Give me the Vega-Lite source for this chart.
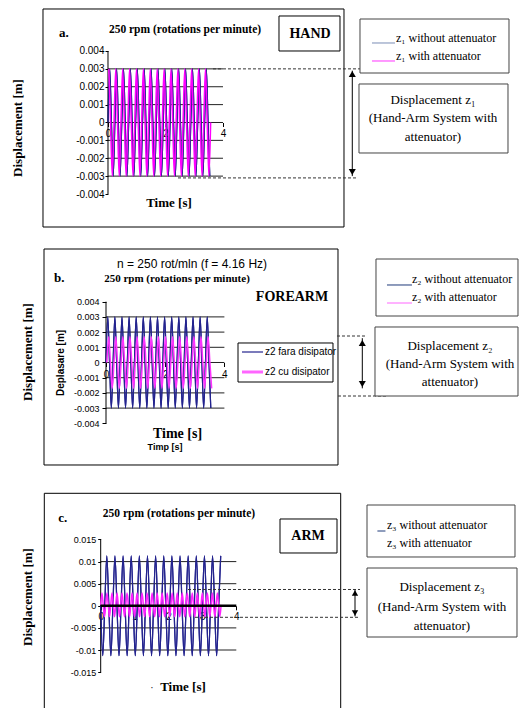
{
"$schema": "https://vega.github.io/schema/vega-lite/v6.json",
"padding": 0,
"spacing": 0,
"background": "white",
"config": {"view": {"stroke": null}, "axis": {"labelFont": "Liberation Sans", "labelColor": "#000", "tickColor": "#000", "domain": false, "grid": false, "labelFlush": false, "labelOverlap": false, "zindex": 1}},
"datasets": {
"ga": [{"g":-0.003},{"g":-0.002},{"g":-0.001},{"g":0},{"g":0.001},{"g":0.002},{"g":0.003}],
"gb": [{"g":-0.003},{"g":-0.002},{"g":-0.001},{"g":0},{"g":0.001},{"g":0.002},{"g":0.003}],
"gc": [{"g":-0.01},{"g":-0.005},{"g":0.005},{"g":0.01}],
"aw": [{"t":0,"v":0},{"t":0.06,"v":0.003},{"t":0.12,"v":0},{"t":0.18,"v":-0.003},{"t":0.24,"v":0},{"t":0.3,"v":0.003},{"t":0.36,"v":0},{"t":0.42,"v":-0.003},{"t":0.48,"v":0},{"t":0.54,"v":0.003},{"t":0.6,"v":0},{"t":0.66,"v":-0.003},{"t":0.72,"v":0},{"t":0.78,"v":0.003},{"t":0.84,"v":0},{"t":0.9,"v":-0.003},{"t":0.96,"v":0},{"t":1.02,"v":0.003},{"t":1.08,"v":0},{"t":1.14,"v":-0.003},{"t":1.2,"v":0},{"t":1.26,"v":0.003},{"t":1.32,"v":0},{"t":1.38,"v":-0.003},{"t":1.44,"v":0},{"t":1.5,"v":0.003},{"t":1.56,"v":0},{"t":1.62,"v":-0.003},{"t":1.68,"v":0},{"t":1.74,"v":0.003},{"t":1.8,"v":0},{"t":1.86,"v":-0.003},{"t":1.92,"v":0},{"t":1.98,"v":0.003},{"t":2.04,"v":0},{"t":2.1,"v":-0.003},{"t":2.16,"v":0},{"t":2.22,"v":0.003},{"t":2.28,"v":0},{"t":2.34,"v":-0.003},{"t":2.4,"v":0},{"t":2.46,"v":0.003},{"t":2.52,"v":0},{"t":2.58,"v":-0.003},{"t":2.64,"v":0},{"t":2.7,"v":0.003},{"t":2.76,"v":0},{"t":2.82,"v":-0.003},{"t":2.88,"v":0},{"t":2.94,"v":0.003},{"t":3,"v":0},{"t":3.06,"v":-0.003},{"t":3.12,"v":0},{"t":3.18,"v":0.003},{"t":3.24,"v":0},{"t":3.3,"v":-0.003},{"t":3.36,"v":0},{"t":3.42,"v":0.003},{"t":3.48,"v":0},{"t":3.54,"v":-0.003}],
"ap": [{"t":0.03,"v":0.003},{"t":0.09,"v":0},{"t":0.15,"v":-0.003},{"t":0.21,"v":0},{"t":0.27,"v":0.003},{"t":0.33,"v":0},{"t":0.39,"v":-0.003},{"t":0.45,"v":0},{"t":0.51,"v":0.003},{"t":0.57,"v":0},{"t":0.63,"v":-0.003},{"t":0.69,"v":0},{"t":0.75,"v":0.003},{"t":0.81,"v":0},{"t":0.87,"v":-0.003},{"t":0.93,"v":0},{"t":0.99,"v":0.003},{"t":1.05,"v":0},{"t":1.11,"v":-0.003},{"t":1.17,"v":0},{"t":1.23,"v":0.003},{"t":1.29,"v":0},{"t":1.35,"v":-0.003},{"t":1.41,"v":0},{"t":1.47,"v":0.003},{"t":1.53,"v":0},{"t":1.59,"v":-0.003},{"t":1.65,"v":0},{"t":1.71,"v":0.003},{"t":1.77,"v":0},{"t":1.83,"v":-0.003},{"t":1.89,"v":0},{"t":1.95,"v":0.003},{"t":2.01,"v":0},{"t":2.07,"v":-0.003},{"t":2.13,"v":0},{"t":2.19,"v":0.003},{"t":2.25,"v":0},{"t":2.31,"v":-0.003},{"t":2.37,"v":0},{"t":2.43,"v":0.003},{"t":2.49,"v":0},{"t":2.55,"v":-0.003},{"t":2.61,"v":0},{"t":2.67,"v":0.003},{"t":2.73,"v":0},{"t":2.79,"v":-0.003},{"t":2.85,"v":0},{"t":2.91,"v":0.003},{"t":2.97,"v":0},{"t":3.03,"v":-0.003},{"t":3.09,"v":0},{"t":3.15,"v":0.003},{"t":3.21,"v":0},{"t":3.27,"v":-0.003},{"t":3.33,"v":0},{"t":3.39,"v":0.003},{"t":3.45,"v":0},{"t":3.51,"v":-0.003},{"t":3.57,"v":0}],
"bw": [{"t":0,"v":0},{"t":0.06,"v":0.003},{"t":0.12,"v":0},{"t":0.18,"v":-0.003},{"t":0.24,"v":0},{"t":0.3,"v":0.003},{"t":0.36,"v":0},{"t":0.42,"v":-0.003},{"t":0.48,"v":0},{"t":0.54,"v":0.003},{"t":0.6,"v":0},{"t":0.66,"v":-0.003},{"t":0.72,"v":0},{"t":0.78,"v":0.003},{"t":0.84,"v":0},{"t":0.9,"v":-0.003},{"t":0.96,"v":0},{"t":1.02,"v":0.003},{"t":1.08,"v":0},{"t":1.14,"v":-0.003},{"t":1.2,"v":0},{"t":1.26,"v":0.003},{"t":1.32,"v":0},{"t":1.38,"v":-0.003},{"t":1.44,"v":0},{"t":1.5,"v":0.003},{"t":1.56,"v":0},{"t":1.62,"v":-0.003},{"t":1.68,"v":0},{"t":1.74,"v":0.003},{"t":1.8,"v":0},{"t":1.86,"v":-0.003},{"t":1.92,"v":0},{"t":1.98,"v":0.003},{"t":2.04,"v":0},{"t":2.1,"v":-0.003},{"t":2.16,"v":0},{"t":2.22,"v":0.003},{"t":2.28,"v":0},{"t":2.34,"v":-0.003},{"t":2.4,"v":0},{"t":2.46,"v":0.003},{"t":2.52,"v":0},{"t":2.58,"v":-0.003},{"t":2.64,"v":0},{"t":2.7,"v":0.003},{"t":2.76,"v":0},{"t":2.82,"v":-0.003},{"t":2.88,"v":0},{"t":2.94,"v":0.003},{"t":3,"v":0},{"t":3.06,"v":-0.003},{"t":3.12,"v":0},{"t":3.18,"v":0.003},{"t":3.24,"v":0},{"t":3.3,"v":-0.003},{"t":3.36,"v":0},{"t":3.42,"v":0.003},{"t":3.48,"v":0},{"t":3.54,"v":-0.003}],
"bp": [{"t":0.03,"v":0},{"t":0.09,"v":0.0017},{"t":0.15,"v":0},{"t":0.21,"v":-0.0017},{"t":0.27,"v":0},{"t":0.33,"v":0.0017},{"t":0.39,"v":0},{"t":0.45,"v":-0.0017},{"t":0.51,"v":0},{"t":0.57,"v":0.0017},{"t":0.63,"v":0},{"t":0.69,"v":-0.0017},{"t":0.75,"v":0},{"t":0.81,"v":0.0017},{"t":0.87,"v":0},{"t":0.93,"v":-0.0017},{"t":0.99,"v":0},{"t":1.05,"v":0.0017},{"t":1.11,"v":0},{"t":1.17,"v":-0.0017},{"t":1.23,"v":0},{"t":1.29,"v":0.0017},{"t":1.35,"v":0},{"t":1.41,"v":-0.0017},{"t":1.47,"v":0},{"t":1.53,"v":0.0017},{"t":1.59,"v":0},{"t":1.65,"v":-0.0017},{"t":1.71,"v":0},{"t":1.77,"v":0.0017},{"t":1.83,"v":0},{"t":1.89,"v":-0.0017},{"t":1.95,"v":0},{"t":2.01,"v":0.0017},{"t":2.07,"v":0},{"t":2.13,"v":-0.0017},{"t":2.19,"v":0},{"t":2.25,"v":0.0017},{"t":2.31,"v":0},{"t":2.37,"v":-0.0017},{"t":2.43,"v":0},{"t":2.49,"v":0.0017},{"t":2.55,"v":0},{"t":2.61,"v":-0.0017},{"t":2.67,"v":0},{"t":2.73,"v":0.0017},{"t":2.79,"v":0},{"t":2.85,"v":-0.0017},{"t":2.91,"v":0},{"t":2.97,"v":0.0017},{"t":3.03,"v":0},{"t":3.09,"v":-0.0017},{"t":3.15,"v":0},{"t":3.21,"v":0.0017},{"t":3.27,"v":0},{"t":3.33,"v":-0.0017},{"t":3.39,"v":0},{"t":3.45,"v":0.0017},{"t":3.51,"v":0},{"t":3.57,"v":-0.0017}],
"cw": [{"t":0,"v":0},{"t":0.06,"v":-0.0113},{"t":0.12,"v":0},{"t":0.18,"v":0.0113},{"t":0.24,"v":0},{"t":0.3,"v":-0.0113},{"t":0.36,"v":0},{"t":0.42,"v":0.0113},{"t":0.48,"v":0},{"t":0.54,"v":-0.0113},{"t":0.6,"v":0},{"t":0.66,"v":0.0113},{"t":0.72,"v":0},{"t":0.78,"v":-0.0113},{"t":0.84,"v":0},{"t":0.9,"v":0.0113},{"t":0.96,"v":0},{"t":1.02,"v":-0.0113},{"t":1.08,"v":0},{"t":1.14,"v":0.0113},{"t":1.2,"v":0},{"t":1.26,"v":-0.0113},{"t":1.32,"v":0},{"t":1.38,"v":0.0113},{"t":1.44,"v":0},{"t":1.5,"v":-0.0113},{"t":1.56,"v":0},{"t":1.62,"v":0.0113},{"t":1.68,"v":0},{"t":1.74,"v":-0.0113},{"t":1.8,"v":0},{"t":1.86,"v":0.0113},{"t":1.92,"v":0},{"t":1.98,"v":-0.0113},{"t":2.04,"v":0},{"t":2.1,"v":0.0113},{"t":2.16,"v":0},{"t":2.22,"v":-0.0113},{"t":2.28,"v":0},{"t":2.34,"v":0.0113},{"t":2.4,"v":0},{"t":2.46,"v":-0.0113},{"t":2.52,"v":0},{"t":2.58,"v":0.0113},{"t":2.64,"v":0},{"t":2.7,"v":-0.0113},{"t":2.76,"v":0},{"t":2.82,"v":0.0113},{"t":2.88,"v":0},{"t":2.94,"v":-0.0113},{"t":3,"v":0},{"t":3.06,"v":0.0113},{"t":3.12,"v":0},{"t":3.18,"v":-0.0113},{"t":3.24,"v":0},{"t":3.3,"v":0.0113},{"t":3.36,"v":0},{"t":3.42,"v":-0.0113},{"t":3.48,"v":0},{"t":3.54,"v":0.0113}],
"cp": [{"t":0,"v":0.0002},{"t":0.037,"v":0.0029},{"t":0.074,"v":0.0002},{"t":0.111,"v":-0.0025},{"t":0.148,"v":0.0002},{"t":0.185,"v":0.0029},{"t":0.222,"v":0.0002},{"t":0.259,"v":-0.0025},{"t":0.296,"v":0.0002},{"t":0.333,"v":0.0029},{"t":0.37,"v":0.0002},{"t":0.407,"v":-0.0025},{"t":0.444,"v":0.0002},{"t":0.481,"v":0.0029},{"t":0.518,"v":0.0002},{"t":0.555,"v":-0.0025},{"t":0.592,"v":0.0002},{"t":0.629,"v":0.0029},{"t":0.666,"v":0.0002},{"t":0.703,"v":-0.0025},{"t":0.74,"v":0.0002},{"t":0.777,"v":0.0029},{"t":0.814,"v":0.0002},{"t":0.851,"v":-0.0025},{"t":0.888,"v":0.0002},{"t":0.925,"v":0.0029},{"t":0.962,"v":0.0002},{"t":0.999,"v":-0.0025},{"t":1.036,"v":0.0002},{"t":1.073,"v":0.0029},{"t":1.11,"v":0.0002},{"t":1.147,"v":-0.0025},{"t":1.184,"v":0.0002},{"t":1.221,"v":0.0029},{"t":1.258,"v":0.0002},{"t":1.295,"v":-0.0025},{"t":1.332,"v":0.0002},{"t":1.369,"v":0.0029},{"t":1.406,"v":0.0002},{"t":1.443,"v":-0.0025},{"t":1.48,"v":0.0002},{"t":1.517,"v":0.0029},{"t":1.554,"v":0.0002},{"t":1.591,"v":-0.0025},{"t":1.628,"v":0.0002},{"t":1.665,"v":0.0029},{"t":1.702,"v":0.0002},{"t":1.739,"v":-0.0025},{"t":1.776,"v":0.0002},{"t":1.813,"v":0.0029},{"t":1.85,"v":0.0002},{"t":1.887,"v":-0.0025},{"t":1.924,"v":0.0002},{"t":1.961,"v":0.0029},{"t":1.998,"v":0.0002},{"t":2.035,"v":-0.0025},{"t":2.072,"v":0.0002},{"t":2.109,"v":0.0029},{"t":2.146,"v":0.0002},{"t":2.183,"v":-0.0025},{"t":2.22,"v":0.0002},{"t":2.257,"v":0.0029},{"t":2.294,"v":0.0002},{"t":2.331,"v":-0.0025},{"t":2.368,"v":0.0002},{"t":2.405,"v":0.0029},{"t":2.442,"v":0.0002},{"t":2.479,"v":-0.0025},{"t":2.516,"v":0.0002},{"t":2.553,"v":0.0029},{"t":2.59,"v":0.0002},{"t":2.627,"v":-0.0025},{"t":2.664,"v":0.0002},{"t":2.701,"v":0.0029},{"t":2.738,"v":0.0002},{"t":2.775,"v":-0.0025},{"t":2.812,"v":0.0002},{"t":2.849,"v":0.0029},{"t":2.886,"v":0.0002},{"t":2.923,"v":-0.0025},{"t":2.96,"v":0.0002},{"t":2.997,"v":0.0029},{"t":3.034,"v":0.0002},{"t":3.071,"v":-0.0025},{"t":3.108,"v":0.0002},{"t":3.145,"v":0.0029},{"t":3.182,"v":0.0002},{"t":3.219,"v":-0.0025},{"t":3.256,"v":0.0002},{"t":3.293,"v":0.0029},{"t":3.33,"v":0.0002},{"t":3.367,"v":-0.0025},{"t":3.404,"v":0.0002},{"t":3.441,"v":0.0029},{"t":3.478,"v":0.0002},{"t":3.515,"v":-0.0025},{"t":3.552,"v":0.0002}]
},
"vconcat": [
{
"width": 519, "height": 242,
"data": {"values": [{}]},
"layer": [
{"data":{"name":"aw"},"mark":{"type":"line","color":"#23238e","strokeWidth":1.2,"interpolate":"monotone"},
 "encoding":{
  "x":{"field":"t","type":"quantitative","scale":{"domain":[-3.7565,14.2957],"nice":false,"zero":false},"axis":{"orient":"bottom","values":[0,2,4],"tickCount":30,"format":"~g","labelOverlap":false,"offset":-119.5,"title":null,"tickSize":4,"labelPadding":2,"labelFontSize":10}},
  "y":{"field":"v","type":"quantitative","scale":{"domain":[-0.0066853,0.0068531],"nice":false,"zero":false},"axis":{"orient":"left","values":[-0.004,-0.003,-0.002,-0.001,0,0.001,0.002,0.003,0.004],"tickCount":30,"labelOverlap":false,"offset":-108,"title":null,"tickSize":3,"labelPadding":1,"labelFontSize":10,"labelExpr":"datum.value == 0 ? '0' : (datum.value < 0 ? '-' : '') + format(abs(datum.value), '~g')"}}}},
{"mark": {"type":"rect","fill":"white","fillOpacity":0,"stroke":"#000","strokeWidth":1},
 "encoding": {"x":{"datum":-2.2609},"x2":{"datum":8.2087},"y":{"datum":-0.0058462},"y2":{"datum":0.0063497}}},
{"data":{"name":"ga"},"mark":{"type":"rule","color":"#222","strokeWidth":1},
 "encoding":{"y":{"field":"g","type":"quantitative"},"x":{"datum":0},"x2":{"datum":4}}},
{"mark":{"type":"rule","color":"#000","strokeWidth":1},
 "encoding":{"x":{"datum":0},"y":{"datum":-0.004},"y2":{"datum":0.004}}},
{"data":{"name":"aw"},"mark":{"type":"line","color":"#23238e","strokeWidth":1.2,"interpolate":"monotone"},
 "encoding":{"x":{"field":"t","type":"quantitative"},"y":{"field":"v","type":"quantitative"}}},
{"data":{"name":"ap"},"mark":{"type":"line","color":"#ff00ff","strokeWidth":1.5,"interpolate":"monotone"},
 "encoding":{"x":{"field":"t","type":"quantitative"},"y":{"field":"v","type":"quantitative"}}},
{"mark":{"type":"rule","strokeDash":[3,2],"color":"#333","strokeWidth":1},
 "encoding":{"x":{"datum":3.652},"x2":{"datum":8.765},"y":{"datum":0.003}}},
{"mark":{"type":"rule","strokeDash":[3,2],"color":"#333","strokeWidth":1},
 "encoding":{"x":{"datum":2.435},"x2":{"datum":8.626},"y":{"datum":-0.0031}}},
{"mark":{"type":"rule","color":"#000","strokeWidth":1},
 "encoding":{"x":{"datum":8.497},"y":{"datum":-0.003},"y2":{"datum":0.0029}}},
{"mark":{"type":"point","shape":"triangle-up","filled":true,"color":"#000","opacity":1,"size":50},
 "encoding":{"x":{"datum":8.497},"y":{"datum":0.002713}}},
{"mark":{"type":"point","shape":"triangle-down","filled":true,"color":"#000","opacity":1,"size":50},
 "encoding":{"x":{"datum":8.497},"y":{"datum":-0.002769}}},
{"mark": {"type":"rect","fill":"white","stroke":"#000","strokeWidth":1},
 "encoding": {"x":{"datum":5.9478},"x2":{"datum":8.0696},"y":{"datum":0.004},"y2":{"datum":0.005958}}},
{"mark":{"type":"text","font":"Liberation Serif","fontWeight":"bold","fontSize":14,"align":"center","baseline":"middle"},
 "encoding":{"x":{"datum":7.0261},"y":{"datum":0.004951},"text":{"value":"HAND"}}},
{"mark": {"type":"rect","fill":"white","stroke":"#444","strokeWidth":1},
 "encoding": {"x":{"datum":8.7652},"x2":{"datum":13.9478},"y":{"datum":0.002769},"y2":{"datum":0.00579}}},
{"mark":{"type":"rule","color":"#7a8db5","strokeWidth":1},
 "encoding":{"x":{"datum":9.1826},"x2":{"datum":9.9826},"y":{"datum":0.004448}}},
{"mark":{"type":"rule","color":"#ff33ff","strokeWidth":1},
 "encoding":{"x":{"datum":9.1826},"x2":{"datum":9.9826},"y":{"datum":0.003441}}},
{"mark":{"type":"text","font":"Liberation Serif","fontSize":12,"align":"left","baseline":"middle"},
 "encoding":{"x":{"datum":10.0174},"y":{"datum":0.004727},"text":{"value":"z₁ without attenuator"}}},
{"mark":{"type":"text","font":"Liberation Serif","fontSize":12,"align":"left","baseline":"middle"},
 "encoding":{"x":{"datum":10.0174},"y":{"datum":0.00372},"text":{"value":"z₁ with attenuator"}}},
{"mark": {"type":"rect","fill":"white","stroke":"#444","strokeWidth":1},
 "encoding": {"x":{"datum":8.7304},"x2":{"datum":13.913},"y":{"datum":-0.001706},"y2":{"datum":0.002154}}},
{"mark":{"type":"text","font":"Liberation Serif","fontSize":13,"align":"center","baseline":"middle"},
 "encoding":{"x":{"datum":11.3043},"y":{"datum":0.001259},"text":{"value":"Displacement z₁"}}},
{"mark":{"type":"text","font":"Liberation Serif","fontSize":13,"align":"center","baseline":"middle"},
 "encoding":{"x":{"datum":11.3043},"y":{"datum":0.000252},"text":{"value":"(Hand-Arm System with"}}},
{"mark":{"type":"text","font":"Liberation Serif","fontSize":13,"align":"center","baseline":"middle"},
 "encoding":{"x":{"datum":11.3043},"y":{"datum":-0.000811},"text":{"value":"attenuator)"}}},
{"mark":{"type":"text","font":"Liberation Serif","fontWeight":"bold","fontSize":13,"align":"left","baseline":"middle"},
 "encoding":{"x":{"datum":-1.7043},"y":{"datum":0.005007},"text":{"value":"a."}}},
{"mark":{"type":"text","font":"Liberation Serif","fontWeight":"bold","fontSize":11.5,"align":"center","baseline":"middle"},
 "encoding":{"x":{"datum":2.6783},"y":{"datum":0.005175},"text":{"value":"250 rpm (rotations per minute)"}}},
{"mark":{"type":"text","font":"Liberation Serif","fontWeight":"bold","fontSize":13,"align":"center","baseline":"middle","angle":270},
 "encoding":{"x":{"datum":-3.1304},"y":{"datum":-0.000308},"text":{"value":"Displacement [m]"}}},
{"mark":{"type":"text","font":"Liberation Serif","fontWeight":"bold","fontSize":13,"align":"center","baseline":"middle"},
 "encoding":{"x":{"datum":2.1217},"y":{"datum":-0.004503},"text":{"value":"Time [s]"}}}
]
},
{
"width": 519, "height": 244,
"data": {"values": [{}]},
"layer": [
{"data":{"name":"bw"},"mark":{"type":"line","color":"#23238e","strokeWidth":1.2,"interpolate":"monotone"},
 "encoding":{
  "x":{"field":"t","type":"quantitative","scale":{"domain":[-3.5811,13.9527],"nice":false,"zero":false},"axis":{"orient":"bottom","values":[0,2,4],"tickCount":30,"format":"~g","labelOverlap":false,"offset":-123.5,"title":null,"tickSize":4,"labelPadding":3,"labelFontSize":10}},
  "y":{"field":"v","type":"quantitative","scale":{"domain":[-0.008125,0.0079276],"nice":false,"zero":false},"axis":{"orient":"left","values":[-0.004,-0.003,-0.002,-0.001,0,0.001,0.002,0.003,0.004],"tickCount":30,"labelOverlap":false,"offset":-106,"title":null,"tickSize":4,"labelPadding":3,"labelFontSize":9,"labelExpr":"datum.value == 0 ? '0' : (datum.value < 0 ? '-' : '') + format(abs(datum.value), '~g')"}}}},
{"mark": {"type":"rect","fill":"white","fillOpacity":0,"stroke":"#000","strokeWidth":1},
 "encoding": {"x":{"datum":-2.0946},"x2":{"datum":7.8378},"y":{"datum":-0.006743},"y2":{"datum":0.007467}}},
{"data":{"name":"gb"},"mark":{"type":"rule","color":"#222","strokeWidth":1},
 "encoding":{"y":{"field":"g","type":"quantitative"},"x":{"datum":0},"x2":{"datum":4}}},
{"mark":{"type":"rule","color":"#000","strokeWidth":1},
 "encoding":{"x":{"datum":0},"y":{"datum":-0.004},"y2":{"datum":0.004}}},
{"data":{"name":"bw"},"mark":{"type":"line","color":"#23238e","strokeWidth":1.2,"interpolate":"monotone"},
 "encoding":{"x":{"field":"t","type":"quantitative"},"y":{"field":"v","type":"quantitative"}}},
{"data":{"name":"bp"},"mark":{"type":"line","color":"#ff33ff","strokeWidth":1.5,"interpolate":"monotone"},
 "encoding":{"x":{"field":"t","type":"quantitative"},"y":{"field":"v","type":"quantitative"}}},
{"mark":{"type":"text","font":"Liberation Sans","fontSize":12,"align":"center","baseline":"middle"},
 "encoding":{"x":{"datum":2.9054},"y":{"datum":0.0065},"text":{"value":"n = 250 rot/mln (f = 4.16 Hz)"}}},
{"mark":{"type":"text","font":"Liberation Serif","fontWeight":"bold","fontSize":13,"align":"left","baseline":"middle"},
 "encoding":{"x":{"datum":-1.7568},"y":{"datum":0.005559},"text":{"value":"b."}}},
{"mark":{"type":"text","font":"Liberation Serif","fontWeight":"bold","fontSize":11,"align":"center","baseline":"middle"},
 "encoding":{"x":{"datum":2.3986},"y":{"datum":0.0055},"text":{"value":"250 rpm (rotations per minute)"}}},
{"mark":{"type":"text","font":"Liberation Serif","fontWeight":"bold","fontSize":14,"align":"center","baseline":"middle"},
 "encoding":{"x":{"datum":6.2838},"y":{"datum":0.004309},"text":{"value":"FOREARM"}}},
{"mark":{"type":"text","font":"Liberation Sans","fontWeight":"bold","fontSize":10,"align":"center","baseline":"middle","angle":270},
 "encoding":{"x":{"datum":-1.5203},"y":{"datum":-0.00003},"text":{"value":"Deplasare [m]"}}},
{"mark":{"type":"text","font":"Liberation Serif","fontWeight":"bold","fontSize":13,"align":"center","baseline":"middle","angle":270},
 "encoding":{"x":{"datum":-2.6351},"y":{"datum":0.000691},"text":{"value":"Displacement [m]"}}},
{"mark":{"type":"text","font":"Liberation Sans","fontWeight":"bold","fontSize":9,"align":"center","baseline":"middle"},
 "encoding":{"x":{"datum":1.9932},"y":{"datum":-0.00556},"text":{"value":"Timp [s]"}}},
{"mark":{"type":"text","font":"Liberation Serif","fontWeight":"bold","fontSize":14,"align":"center","baseline":"middle"},
 "encoding":{"x":{"datum":2.4155},"y":{"datum":-0.00472},"text":{"value":"Time [s]"}}},
{"mark": {"type":"rect","fill":"white","stroke":"#000","strokeWidth":1},
 "encoding": {"x":{"datum":4.4595},"x2":{"datum":7.6689},"y":{"datum":-0.001283},"y2":{"datum":0.001283}}},
{"mark":{"type":"rule","color":"#23238e","strokeWidth":1.2},
 "encoding":{"x":{"datum":4.5946},"x2":{"datum":5.3041},"y":{"datum":0.000691}}},
{"mark":{"type":"rule","color":"#ff66ff","strokeWidth":3},
 "encoding":{"x":{"datum":4.5946},"x2":{"datum":5.3041},"y":{"datum":-0.000625}}},
{"mark":{"type":"text","font":"Liberation Sans","fontSize":10,"align":"left","baseline":"middle"},
 "encoding":{"x":{"datum":5.3716},"y":{"datum":0.000691},"text":{"value":"z2 fara disipator"}}},
{"mark":{"type":"text","font":"Liberation Sans","fontSize":10,"align":"left","baseline":"middle"},
 "encoding":{"x":{"datum":5.3716},"y":{"datum":-0.000625},"text":{"value":"z2 cu disipator"}}},
{"mark":{"type":"rule","strokeDash":[3,2],"color":"#333","strokeWidth":1},
 "encoding":{"x":{"datum":7.804},"x2":{"datum":8.8176},"y":{"datum":0.001743}}},
{"mark":{"type":"rule","strokeDash":[3,2],"color":"#333","strokeWidth":1},
 "encoding":{"x":{"datum":7.8378},"x2":{"datum":9.4932},"y":{"datum":-0.002204}}},
{"mark":{"type":"rule","color":"#000","strokeWidth":1},
 "encoding":{"x":{"datum":8.6588},"y":{"datum":-0.0017},"y2":{"datum":0.0016}}},
{"mark":{"type":"point","shape":"triangle-up","filled":true,"color":"#000","opacity":1,"size":50},
 "encoding":{"x":{"datum":8.6588},"y":{"datum":0.001283}}},
{"mark":{"type":"point","shape":"triangle-down","filled":true,"color":"#000","opacity":1,"size":50},
 "encoding":{"x":{"datum":8.6588},"y":{"datum":-0.001414}}},
{"mark": {"type":"rect","fill":"white","stroke":"#444","strokeWidth":1},
 "encoding": {"x":{"datum":9.1216},"x2":{"datum":13.9189},"y":{"datum":0.003059},"y2":{"datum":0.006809}}},
{"mark":{"type":"rule","color":"#1f3a7a","strokeWidth":1},
 "encoding":{"x":{"datum":9.4932},"x2":{"datum":10.3378},"y":{"datum":0.005099}}},
{"mark":{"type":"rule","color":"#ff66ff","strokeWidth":1},
 "encoding":{"x":{"datum":9.4932},"x2":{"datum":10.3378},"y":{"datum":0.003914}}},
{"mark":{"type":"text","font":"Liberation Serif","fontSize":12,"align":"left","baseline":"middle"},
 "encoding":{"x":{"datum":10.3378},"y":{"datum":0.005493},"text":{"value":"z₂ without attenuator"}}},
{"mark":{"type":"text","font":"Liberation Serif","fontSize":12,"align":"left","baseline":"middle"},
 "encoding":{"x":{"datum":10.3378},"y":{"datum":0.004309},"text":{"value":"z₂ with attenuator"}}},
{"mark": {"type":"rect","fill":"white","stroke":"#444","strokeWidth":1},
 "encoding": {"x":{"datum":9.0878},"x2":{"datum":13.9189},"y":{"datum":-0.002204},"y2":{"datum":0.002336}}},
{"mark":{"type":"text","font":"Liberation Serif","fontSize":13,"align":"center","baseline":"middle"},
 "encoding":{"x":{"datum":11.6216},"y":{"datum":0.001086},"text":{"value":"Displacement z₂"}}},
{"mark":{"type":"text","font":"Liberation Serif","fontSize":13,"align":"center","baseline":"middle"},
 "encoding":{"x":{"datum":11.6216},"y":{"datum":-0.0000987},"text":{"value":"(Hand-Arm System with"}}},
{"mark":{"type":"text","font":"Liberation Serif","fontSize":13,"align":"center","baseline":"middle"},
 "encoding":{"x":{"datum":11.6216},"y":{"datum":-0.001283},"text":{"value":"attenuator)"}}}
]
},
{
"width": 519, "height": 222,
"data": {"values": [{}]},
"layer": [
{"data":{"name":"cw"},"mark":{"type":"line","color":"#23238e","strokeWidth":1.2,"interpolate":"monotone"},
 "encoding":{
  "x":{"field":"t","type":"quantitative","scale":{"domain":[-2.9705,12.3392],"nice":false,"zero":false},"axis":{"orient":"bottom","values":[0,1,2,3,4],"tickCount":30,"format":"~g","labelOverlap":false,"offset":-102.2,"title":null,"tickSize":4,"labelPadding":2,"labelFontSize":10}},
  "y":{"field":"v","type":"quantitative","scale":{"domain":[-0.023122,0.027104],"nice":false,"zero":false},"axis":{"orient":"left","values":[-0.015,-0.01,-0.005,0,0.005,0.01,0.015],"tickCount":30,"labelOverlap":false,"offset":-100.7,"title":null,"tickSize":3,"labelPadding":2,"labelFontSize":9,"labelExpr":"datum.value == 0 ? '0' : (datum.value < 0 ? '-' : '') + format(abs(datum.value), '~g')"}}}},
{"mark":{"type":"rule","color":"#000","strokeWidth":1},
 "encoding":{"x":{"datum":-1.6637},"y":{"datum":-0.023122},"y2":{"datum":0.025452}}},
{"mark":{"type":"rule","color":"#000","strokeWidth":1},
 "encoding":{"x":{"datum":-1.6637},"x2":{"datum":7.0796},"y":{"datum":0.025452}}},
{"mark":{"type":"rule","color":"#000","strokeWidth":1},
 "encoding":{"x":{"datum":7.0796},"y":{"datum":-0.023122},"y2":{"datum":0.025452}}},
{"data":{"name":"gc"},"mark":{"type":"rule","color":"#222","strokeWidth":1},
 "encoding":{"y":{"field":"g","type":"quantitative"},"x":{"datum":0},"x2":{"datum":4}}},
{"mark":{"type":"rule","color":"#000","strokeWidth":1},
 "encoding":{"x":{"datum":0},"y":{"datum":-0.015},"y2":{"datum":0.015}}},
{"data":{"name":"cw"},"mark":{"type":"line","color":"#23238e","strokeWidth":1.2,"interpolate":"monotone"},
 "encoding":{"x":{"field":"t","type":"quantitative"},"y":{"field":"v","type":"quantitative"}}},
{"data":{"name":"cp"},"mark":{"type":"line","color":"#ff22ff","strokeWidth":1.5,"interpolate":"monotone"},
 "encoding":{"x":{"field":"t","type":"quantitative"},"y":{"field":"v","type":"quantitative"}}},
{"mark":{"type":"rule","color":"#000","strokeWidth":2.5},
 "encoding":{"x":{"datum":0},"x2":{"datum":4},"y":{"datum":0}}},
{"mark":{"type":"text","font":"Liberation Serif","fontWeight":"bold","fontSize":13,"align":"left","baseline":"middle"},
 "encoding":{"x":{"datum":-1.2507},"y":{"datum":0.019864},"text":{"value":"c."}}},
{"mark":{"type":"text","font":"Liberation Serif","fontWeight":"bold","fontSize":11.5,"align":"center","baseline":"middle"},
 "encoding":{"x":{"datum":2.3097},"y":{"datum":0.020769},"text":{"value":"250 rpm (rotations per minute)"}}},
{"mark": {"type":"rect","fill":"white","stroke":"#000","strokeWidth":1},
 "encoding": {"x":{"datum":5.2891},"x2":{"datum":6.9705},"y":{"datum":0.011946},"y2":{"datum":0.019638}}},
{"mark":{"type":"text","font":"Liberation Serif","fontWeight":"bold","fontSize":14,"align":"center","baseline":"middle"},
 "encoding":{"x":{"datum":6.115},"y":{"datum":0.015792},"text":{"value":"ARM"}}},
{"mark":{"type":"text","font":"Liberation Serif","fontWeight":"bold","fontSize":13,"align":"center","baseline":"middle","angle":270},
 "encoding":{"x":{"datum":-2.1445},"y":{"datum":0.001991},"text":{"value":"Displacement [m]"}}},
{"mark":{"type":"text","font":"Liberation Serif","fontWeight":"bold","fontSize":13,"align":"center","baseline":"middle"},
 "encoding":{"x":{"datum":2.4277},"y":{"datum":-0.018371},"text":{"value":"Time [s]"}}},
{"mark":{"type":"text","font":"Liberation Serif","fontSize":10,"align":"center","baseline":"middle"},
 "encoding":{"x":{"datum":1.5133},"y":{"datum":-0.018597},"text":{"value":"·"}}},
{"mark":{"type":"rule","strokeDash":[3,2],"color":"#333","strokeWidth":1},
 "encoding":{"x":{"datum":2.5752},"x2":{"datum":7.649},"y":{"datum":0.003688}}},
{"mark":{"type":"rule","strokeDash":[3,2],"color":"#333","strokeWidth":1},
 "encoding":{"x":{"datum":2.7817},"x2":{"datum":7.649},"y":{"datum":-0.002602}}},
{"mark":{"type":"rule","color":"#000","strokeWidth":1},
 "encoding":{"x":{"datum":7.5015},"y":{"datum":-0.0024},"y2":{"datum":0.0036}}},
{"mark":{"type":"point","shape":"triangle-up","filled":true,"color":"#000","opacity":1,"size":40},
 "encoding":{"x":{"datum":7.5015},"y":{"datum":0.002896}}},
{"mark":{"type":"point","shape":"triangle-down","filled":true,"color":"#000","opacity":1,"size":40},
 "encoding":{"x":{"datum":7.5015},"y":{"datum":-0.001629}}},
{"mark": {"type":"rect","fill":"white","stroke":"#444","strokeWidth":1},
 "encoding": {"x":{"datum":7.8555},"x2":{"datum":12.2212},"y":{"datum":0.011041},"y2":{"datum":0.022805}}},
{"mark":{"type":"rule","color":"#1f3a7a","strokeWidth":1},
 "encoding":{"x":{"datum":8.1622},"x2":{"datum":8.4},"y":{"datum":0.016923}}},
{"mark":{"type":"text","font":"Liberation Serif","fontSize":12,"align":"left","baseline":"middle"},
 "encoding":{"x":{"datum":8.4454},"y":{"datum":0.01828},"text":{"value":"z₃ without attenuator"}}},
{"mark":{"type":"text","font":"Liberation Serif","fontSize":12,"align":"left","baseline":"middle"},
 "encoding":{"x":{"datum":8.4454},"y":{"datum":0.014208},"text":{"value":"z₃ with attenuator"}}},
{"mark": {"type":"rect","fill":"white","stroke":"#444","strokeWidth":1},
 "encoding": {"x":{"datum":7.8555},"x2":{"datum":12.2802},"y":{"datum":-0.007059},"y2":{"datum":0.008552}}},
{"mark":{"type":"text","font":"Liberation Serif","fontSize":13,"align":"center","baseline":"middle"},
 "encoding":{"x":{"datum":10.0678},"y":{"datum":0.004253},"text":{"value":"Displacement z₃"}}},
{"mark":{"type":"text","font":"Liberation Serif","fontSize":13,"align":"center","baseline":"middle"},
 "encoding":{"x":{"datum":10.0678},"y":{"datum":-0.000271},"text":{"value":"(Hand-Arm System with"}}},
{"mark":{"type":"text","font":"Liberation Serif","fontSize":13,"align":"center","baseline":"middle"},
 "encoding":{"x":{"datum":10.0678},"y":{"datum":-0.00457},"text":{"value":"attenuator)"}}}
]
}
]
}
